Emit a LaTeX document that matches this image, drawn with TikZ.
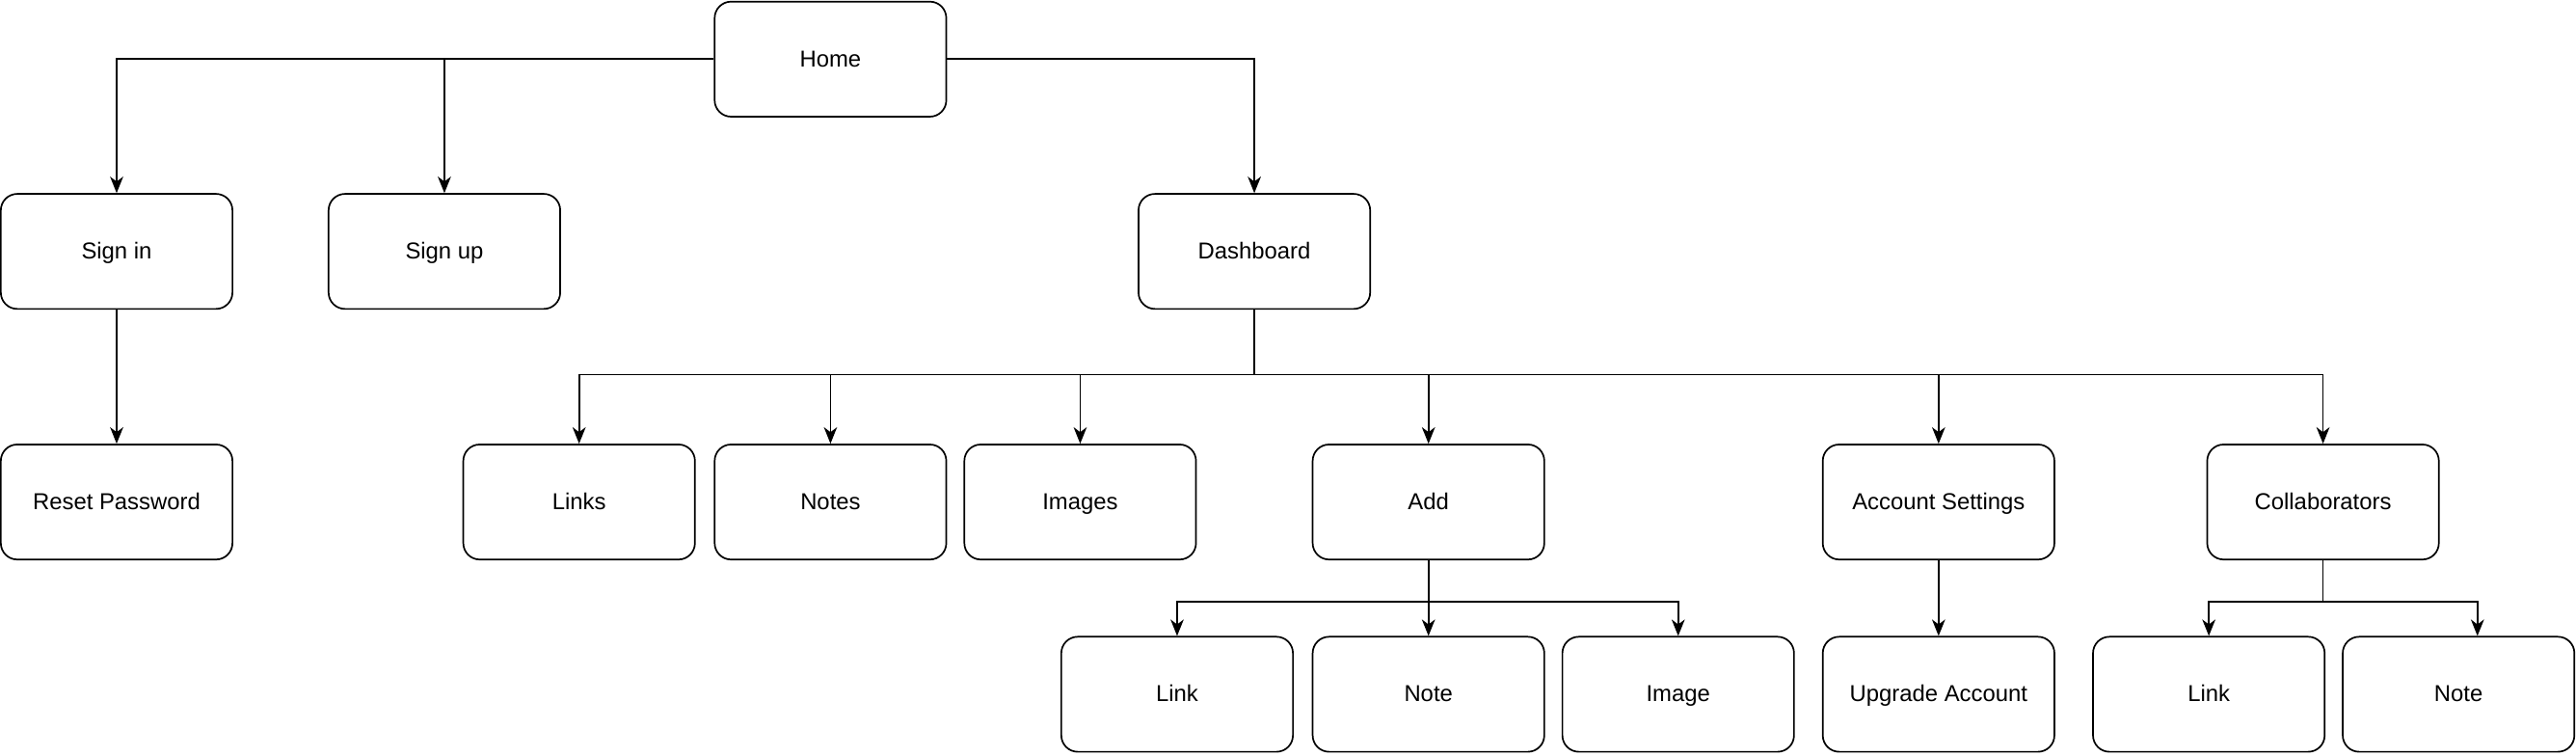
\documentclass[tikz,border=0pt]{standalone}
\usepackage{fontspec}
\setmainfont{Liberation Sans}
\usetikzlibrary{arrows.meta}

\tikzstyle{page}=[draw,rounded corners=10pt,minimum width=141pt,minimum height=70pt,inner sep=0pt,line width=1pt,text height=11pt,text depth=2pt,font=\fontsize{14}{16}\selectfont]
\tikzstyle{link}=[line width=1pt,-{Stealth[length=10pt,width=8pt,inset=3pt]}]

\begin{document}
\begin{tikzpicture}[x=1pt,y=-1pt]
    \useasboundingbox (0,0) rectangle (1568,460);

    \node[page] (home) at (505.5,36) {Home};
    \node[page] (signin) at (71,153) {Sign in};
    \node[page] (signup) at (270.5,153) {Sign up};
    \node[page] (dash) at (763.5,153) {Dashboard};
    \node[page] (reset) at (71,305.5) {Reset Password};
    \node[page] (links) at (352.5,305.5) {Links};
    \node[page] (notes) at (505.5,305.5) {Notes};
    \node[page] (images) at (657.5,305.5) {Images};
    \node[page] (add) at (869.5,305.5) {Add};
    \node[page] (settings) at (1180,305.5) {Account Settings};
    \node[page] (collab) at (1414,305.5) {Collaborators};
    \node[page] (link) at (716.5,422.5) {Link};
    \node[page] (note) at (869.5,422.5) {Note};
    \node[page] (image) at (1021.5,422.5) {Image};
    \node[page] (upgrade) at (1180,422.5) {Upgrade Account};
    \node[page] (clink) at (1344.5,422.5) {Link};
    \node[page] (cnote) at (1496.5,422.5) {Note};

    \coordinate (dj) at (763.5,228);
    \coordinate (aj) at (869.5,366);
    \coordinate (cj) at (1414,366);

    \draw[link] (home.west) -| (signin.north);
    \draw[link] (signup.north |- home.west) -- (signup.north);
    \draw[link] (home.east) -| (dash.north);
    \draw[link] (signin.south) -- (reset.north);

    \draw[line width=1pt] (dash.south) -- (dj);
    \draw[link] (dj) -| (links.north);
    \draw[link] (dj) -| (notes.north);
    \draw[link] (dj) -| (images.north);
    \draw[link] (dj) -| (add.north);
    \draw[link] (dj) -| (settings.north);
    \draw[link] (dj) -| (collab.north);

    \draw[line width=1pt] (add.south) -- (aj);
    \draw[link] (aj) -| (link.north);
    \draw[link] (aj) -- (note.north);
    \draw[link] (aj) -| (image.north);

    \draw[link] (settings.south) -- (upgrade.north);

    \draw[line width=1pt] (collab.south) -- (cj);
    \draw[link] (cj) -| (clink.north);
    \draw[link] (cj) -| ([xshift=11.5pt]cnote.north);

\end{tikzpicture}
\end{document}
